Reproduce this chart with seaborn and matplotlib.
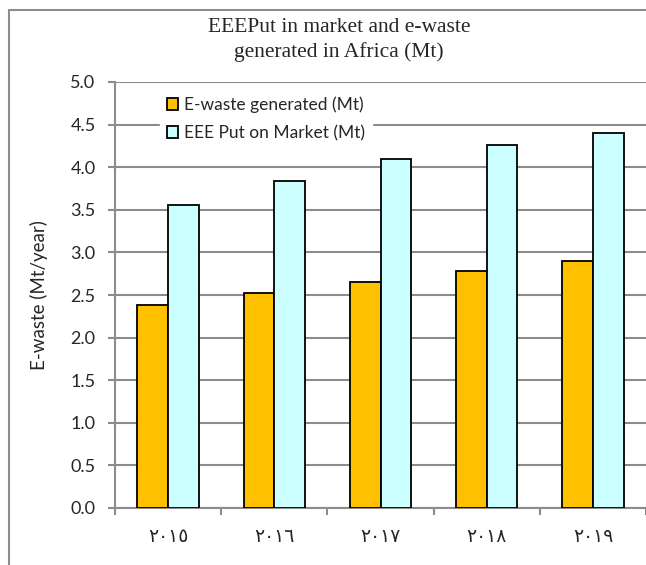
import matplotlib
matplotlib.use("Agg")
import matplotlib.pyplot as plt
from matplotlib.lines import Line2D
from matplotlib.ticker import FixedLocator, MultipleLocator
import seaborn as sns
import pandas as pd

years = ["٢٠١٥", "٢٠١٦", "٢٠١٧", "٢٠١٨", "٢٠١٩"]
ewaste_generated = [2.38, 2.52, 2.65, 2.78, 2.90]
eee_put_on_market = [3.56, 3.84, 4.10, 4.26, 4.40]
series_names = ["E-waste generated (Mt)", "EEE Put on Market (Mt)"]
series_colors = ["#FFC000", "#CCFFFF"]

df = pd.DataFrame({
    "year": years * 2,
    "value": ewaste_generated + eee_put_on_market,
    "series": [series_names[0]] * len(years) + [series_names[1]] * len(years),
})

sns.set_theme(style="white")
plt.rcParams["font.family"] = ["Lato", "DejaVu Sans"]

W, H = 646, 565
fig = plt.figure(figsize=(W / 100, H / 100), dpi=100)
ax = fig.add_axes([115 / W, 1 - 508 / H, (646 - 115) / W, (508 - 82) / H])

sns.barplot(data=df, x="year", y="value", hue="series", order=years,
            hue_order=series_names, palette=series_colors, width=0.58,
            edgecolor="black", linewidth=1.3, saturation=1, ax=ax, zorder=3)

ax.set_xlim(-0.5, len(years) - 0.5)
ax.set_ylim(0, 5)
ax.yaxis.set_major_locator(MultipleLocator(0.5))
ax.set_yticklabels([f"{v:.1f}" for v in ax.get_yticks()])
ax.grid(axis="y", color="#8c8c8c", linewidth=1.5, zorder=0)
ax.set_axisbelow(True)

for side in ["top", "right"]:
    ax.spines[side].set_visible(False)
for side in ["left", "bottom"]:
    ax.spines[side].set_color("#8c8c8c")
    ax.spines[side].set_linewidth(1.5)

ax.tick_params(axis="y", which="major", direction="out", length=5, width=1.5,
               color="#8c8c8c", labelsize=13, pad=9, left=True)
ax.xaxis.set_minor_locator(FixedLocator([i - 0.5 for i in range(len(years) + 1)]))
ax.tick_params(axis="x", which="minor", direction="out", length=5, width=1.5,
               color="#8c8c8c", bottom=True)
ax.tick_params(axis="x", which="major", length=0, pad=14)
for lbl in ax.get_xticklabels():
    lbl.set_family(["DejaVu Sans"])
    lbl.set_fontsize(13.5)

ax.set_xlabel("")
ax.set_ylabel("E-waste (Mt/year)", fontsize=13.5, labelpad=16)

leg = ax.legend(loc="upper left", bbox_to_anchor=(0.085, 0.982), fontsize=12.5,
                frameon=True, facecolor="white", edgecolor="white", framealpha=1,
                handlelength=0.65, handleheight=0.65, handletextpad=0.3,
                labelspacing=0.68, borderpad=0.4, borderaxespad=0)
leg.set_zorder(5)
for h in leg.legend_handles:
    h.set_edgecolor("black")
    h.set_linewidth(1.3)

fig.text(339 / W, 1 - 40 / H, "EEEPut in market and e-waste\ngenerated in Africa (Mt)",
         ha="center", va="center", fontsize=15.5, family="Liberation Serif",
         linespacing=1.3)

# outer frame lines
fig.add_artist(Line2D([9 / W, 9 / W], [0, 1 - 10 / H], transform=fig.transFigure,
                      color="#8c8c8c", linewidth=1.5))
fig.add_artist(Line2D([9 / W, 1], [1 - 10 / H, 1 - 10 / H], transform=fig.transFigure,
                      color="#8c8c8c", linewidth=1.5))

fig.savefig("out.png", dpi=100)
